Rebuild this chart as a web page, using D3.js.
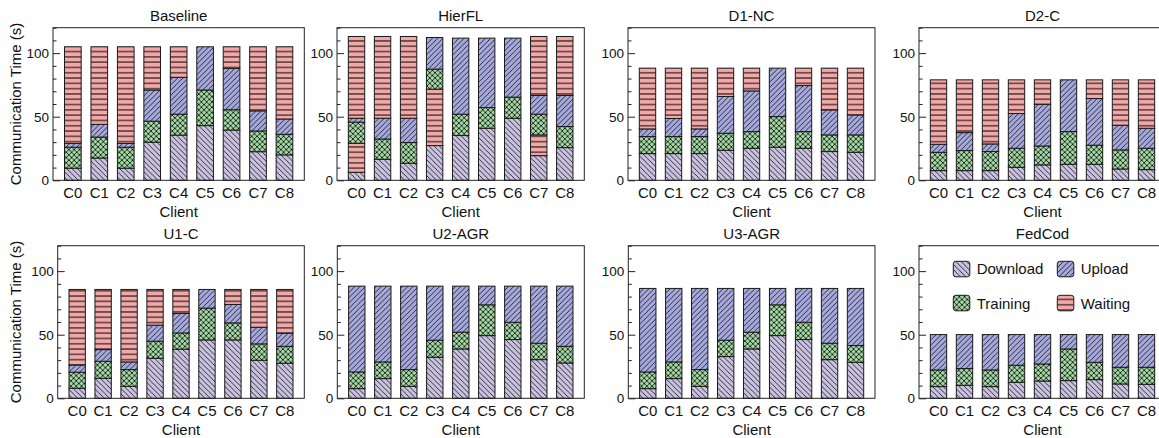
<!DOCTYPE html>
<html><head><meta charset="utf-8">
<script src="https://cdn.jsdelivr.net/npm/d3@7"></script>
<style>
body{margin:0;background:#fff}
svg{display:block}
text{font-family:"Liberation Sans",Arial,Helvetica,sans-serif;fill:#111}
</style>
</head><body>
<svg id="chart" width="1159" height="438"></svg>
<script>
// ---------------- data ----------------
const clients = ["C0","C1","C2","C3","C4","C5","C6","C7","C8"];
const panelTitles = ["Baseline","HierFL","D1-NC","D2-C","U1-C","U2-AGR","U3-AGR","FedCod"];
const legendNames = ["Download","Upload","Training","Waiting"];
const yMajorTicks = [0,50,100];
const yMinorTicks = [10,20,30,40,60,70,80,90,110,120];
const yMax = 120;

const baselineDownload = [9.5,17.5,9.5,30,35.5,43,39.5,22.5,20];
const baselineTraining = [16.5,16.5,16.5,16.5,16.5,28,16,16.3,16.2];
const baselineUpload   = [3,10,3,24.5,29,34,32.5,15.8,12];
const baselineWaiting  = [76,61,76,34,24,0,17,50.4,56.8];

const hierflDownload      = [6.3,16.5,13.4,27.3,35.2,40.9,48.8,19.4,25.7];
const hierflWaitingBefore = [22.8,0,0,44.4,0,0,0,16.3,0];
const hierflTraining      = [16.6,16,16.3,15.7,16.8,16.3,16.6,16.3,16.6];
const hierflUpload        = [3.1,16.3,19.1,24.9,59.8,54.6,46.4,14.7,24.4];
const hierflWaiting       = [64.3,64.3,64.3,0,0,0,0,46.4,46.4];

const d1ncDownload = [21,21,21,23.6,25.2,26,25.2,22.6,22];
const d1ncTraining = [13.4,13.4,13.4,13.4,13.1,24.1,13.1,13.1,13.7];
const d1ncUpload   = [6,14.2,6,28.9,32,38.1,36.2,19.7,15.7];
const d1ncWaiting  = [47.8,39.6,47.8,22.3,17.9,0,13.7,32.8,36.8];

const d2cDownload = [7.6,7.6,7.6,10.2,12.1,12.6,12.6,8.9,8.4];
const d2cTraining = [14.4,15.8,15,15,14.9,25.7,15,15,16.8];
const d2cUpload   = [6.3,14.1,6,27.3,32.8,40.7,36.7,19.4,15.7];
const d2cWaiting  = [50.7,41.5,50.4,26.5,19.2,0,14.7,35.7,38.1];

const u1cDownload = [7.9,15.7,9.4,31.5,38.6,45.9,45.9,29.9,27.6];
const u1cTraining = [12.6,13.4,13.2,13.4,12.8,25,13.4,12.9,13.3];
const u1cUpload   = [5.7,9.2,6,12.6,15.3,14.7,14.5,13.1,10.3];
const u1cWaiting  = [59.4,47.3,57,28.1,18.9,0,11.8,29.7,34.4];

const u2agrDownload = [7.6,15.5,9.4,32.3,38.8,49.3,46.2,30.4,27.8];
const u2agrTraining = [13.1,13.1,13.2,13.4,13.2,24.2,13.6,12.9,13.1];
const u2agrUpload   = [67.5,59.6,65.6,42.5,36.2,14.7,28.4,44.9,47.3];

const u3agrDownload = [7.6,15.5,9.4,32.8,38.8,49.3,46.2,30.4,28.3];
const u3agrTraining = [13.1,13.1,13.2,12.9,13.2,24.2,13.6,12.9,13.2];
const u3agrUpload   = [65.7,57.8,63.8,40.7,34.4,12.9,26.6,43.1,44.9];

const fedcodDownload = [9.2,10.2,9.2,12.6,13.6,13.9,14.7,11.3,11.0];
const fedcodTraining = [13.1,13.2,13.1,13.4,13.4,24.9,13.6,13.1,13.4];
const fedcodUpload   = [27.8,26.7,27.8,24.1,23.1,11.3,21.8,25.7,25.7];

const zeros = clients.map(() => 0);
const panelData = [
  {download: baselineDownload, before: zeros, training: baselineTraining, upload: baselineUpload, waiting: baselineWaiting},
  {download: hierflDownload, before: hierflWaitingBefore, training: hierflTraining, upload: hierflUpload, waiting: hierflWaiting},
  {download: d1ncDownload, before: zeros, training: d1ncTraining, upload: d1ncUpload, waiting: d1ncWaiting},
  {download: d2cDownload, before: zeros, training: d2cTraining, upload: d2cUpload, waiting: d2cWaiting},
  {download: u1cDownload, before: zeros, training: u1cTraining, upload: u1cUpload, waiting: u1cWaiting},
  {download: u2agrDownload, before: zeros, training: u2agrTraining, upload: u2agrUpload, waiting: zeros},
  {download: u3agrDownload, before: zeros, training: u3agrTraining, upload: u3agrUpload, waiting: zeros},
  {download: fedcodDownload, before: zeros, training: fedcodTraining, upload: fedcodUpload, waiting: zeros}
];

// ---------------- layout / style ----------------
const frames = [
  {x0:53, x1:304.3, y0:27.7, y1:180.3},
  {x0:337, x1:584.3, y0:27.7, y1:180.3},
  {x0:628, x1:875, y0:27.7, y1:180.3},
  {x0:919, x1:1166, y0:27.7, y1:180.3},
  {x0:57.7, x1:304.3, y0:245.7, y1:398.3},
  {x0:337.3, x1:584.3, y0:245.7, y1:398.3},
  {x0:628.3, x1:875, y0:245.7, y1:398.3},
  {x0:919, x1:1166, y0:245.7, y1:398.3}
];
const style = {
  download: {fill:"#cbc2e2", hatch:"back"},
  training: {fill:"#a2d9a3", hatch:"cross"},
  upload:   {fill:"#a6a9de", hatch:"fwd"},
  waiting:  {fill:"#f3a8a7", hatch:"horiz"}
};
const legendKey = {Download:"download", Upload:"upload", Training:"training", Waiting:"waiting"};

const svg = d3.select("#chart");
const defs = svg.append("defs");
const S = 5.3;
function makePattern(id, color, kind) {
  const p = defs.append("pattern").attr("id", id)
    .attr("patternUnits","userSpaceOnUse").attr("width", S).attr("height", S);
  p.append("rect").attr("width", S).attr("height", S).attr("fill", color);
  const back = `M0,0L${S},${S}M${-S/2},${S/2}L${S/2},${S*1.5}M${S/2},${-S/2}L${S*1.5},${S/2}`;
  const fwd = `M0,${S}L${S},0M${-S/2},${S/2}L${S/2},${-S/2}M${S/2},${S*1.5}L${S*1.5},${S/2}`;
  let d;
  if (kind === "back") d = back;
  else if (kind === "fwd") d = fwd;
  else if (kind === "cross") d = back + fwd;
  else d = `M0,${S/2}L${S},${S/2}`;
  p.append("path").attr("d", d).attr("stroke","#151515")
    .attr("stroke-width", kind === "horiz" ? 1.1 : 0.85).attr("fill","none");
}
Object.entries(style).forEach(([k, v]) => makePattern("pat-" + k, v.fill, v.hatch));

const segOrder = [["download","download"],["before","waiting"],["training","training"],["upload","upload"],["waiting","waiting"]];

panelData.forEach((pd, pi) => {
  const f = frames[pi];
  const W = f.x1 - f.x0, H = f.y1 - f.y0;
  const g = svg.append("g").attr("transform", `translate(${f.x0},${f.y0})`);
  const x = d3.scaleBand().domain(clients).range([0, W]).paddingInner(0.37).paddingOuter(0.435);
  const y = d3.scaleLinear().domain([0, yMax]).range([H, 0]);

  // bars
  clients.forEach((c, i) => {
    let cum = 0;
    segOrder.forEach(([key, kind]) => {
      const v = pd[key][i];
      if (!v) return;
      g.append("rect")
        .attr("x", x(c)).attr("width", x.bandwidth())
        .attr("y", y(cum + v)).attr("height", y(cum) - y(cum + v))
        .attr("fill", `url(#pat-${kind})`)
        .attr("stroke", "#1a1a1a").attr("stroke-width", 1);
      cum += v;
    });
  });

  // minor y ticks
  const minor = g.append("g").call(d3.axisLeft(y).tickValues(yMinorTicks).tickSizeInner(-3.5).tickSizeOuter(0).tickFormat(""));
  minor.select(".domain").remove();
  minor.selectAll("line").attr("stroke","#222");
  // major y ticks
  const major = g.append("g").call(d3.axisLeft(y).tickValues(yMajorTicks).tickSizeInner(-7).tickSizeOuter(0).tickPadding(4));
  major.select(".domain").remove();
  major.selectAll("line").attr("stroke","#222");
  major.selectAll("text").attr("font-size", 13.5).attr("fill","#111")
    .style("font-family","'Liberation Sans',Arial,sans-serif");

  // x axis labels
  const xa = g.append("g").attr("transform", `translate(0,${H})`)
    .call(d3.axisBottom(x).tickSize(0).tickPadding(0));
  xa.select(".domain").remove();
  xa.selectAll("text").attr("y", 17.6).attr("dy", null).attr("font-size", 15).attr("fill","#111")
    .style("font-family","'Liberation Sans',Arial,sans-serif");

  // frame
  g.append("rect").attr("width", W).attr("height", H).attr("fill","none")
    .attr("stroke","#222").attr("stroke-width",1);

  // title
  g.append("text").attr("x", W/2).attr("y", -7.2).attr("text-anchor","middle")
    .attr("font-size", 15).text(panelTitles[pi]);
  // x label
  g.append("text").attr("x", W/2).attr("y", H + 37.2).attr("text-anchor","middle")
    .attr("font-size", 15).text("Client");
  // y label
  if (pi % 4 === 0) {
    svg.append("text").attr("transform", `translate(20.5,${(f.y0+f.y1)/2}) rotate(-90)`)
      .attr("text-anchor","middle").attr("font-size", 15).text("Communication Time (s)");
  }
});

// legend in FedCod panel
const legPos = [
  {px:953.3, py:261.3, tx:976.7, ty:274.3},
  {px:1057.3, py:261.3, tx:1080.7, ty:274.3},
  {px:953.3, py:295.3, tx:976.7, ty:308.5},
  {px:1057.3, py:295.3, tx:1080.7, ty:308.5}
];
legendNames.forEach((name, i) => {
  const p = legPos[i];
  svg.append("rect").attr("x", p.px).attr("y", p.py).attr("width", 16.5).attr("height", 15.5)
    .attr("rx", 2.5).attr("fill", `url(#pat-${legendKey[name]})`)
    .attr("stroke","#1a1a1a").attr("stroke-width",1);
  svg.append("text").attr("x", p.tx).attr("y", p.ty).attr("font-size", 15).text(name);
});
</script>
</body></html>
